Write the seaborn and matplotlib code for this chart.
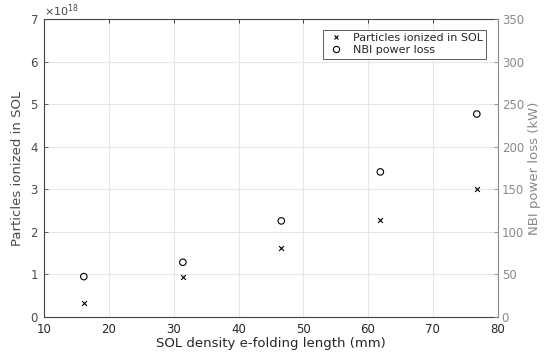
import matplotlib
matplotlib.use("Agg")
import matplotlib.pyplot as plt
import seaborn as sns
import pandas as pd
import numpy as np

efold_mm = [16.1, 31.4, 46.6, 61.9, 76.8]
particles_ionized = [0.33e18, 0.95e18, 1.63e18, 2.29e18, 3.00e18]
nbi_power_loss_kw = [47.5, 64.4, 113.0, 170.6, 238.7]

x_ticks = [10, 20, 30, 40, 50, 60, 70, 80]
left_ticks = [0, 1e18, 2e18, 3e18, 4e18, 5e18, 6e18, 7e18]
right_ticks = [0, 50, 100, 150, 200, 250, 300, 350]

sns.set_theme(style="white")
plt.rcParams['font.family'] = ['DejaVu Sans']

df = pd.DataFrame({"x": efold_mm, "p": particles_ionized, "w": nbi_power_loss_kw})

left_col = "#4a4a4a"
right_col = "#8a8a8a"

fig = plt.figure(figsize=(5.58, 3.58), dpi=100)
ax = fig.add_axes([0.0794, 0.1145, 0.8122, 0.8315])
ax2 = ax.twinx()

sns.scatterplot(data=df, x="x", y="p", ax=ax, marker="x", color="black", s=12,
                linewidth=0.8, legend=False, zorder=3)
sns.scatterplot(data=df, x="x", y="w", ax=ax2, marker="o", facecolors="none",
                edgecolor="black", s=22, linewidth=0.8, legend=False, zorder=3)

ax.set_xlim(10, 80)
ax.set_ylim(0, 7e18)
ax2.set_ylim(0, 350)
ax.set_xticks(x_ticks)
ax.set_yticks(left_ticks)
ax2.set_yticks(right_ticks)

ax.grid(True, color="#e6e6e6", linewidth=0.8)
ax.set_axisbelow(True)

ax.set_xlabel("SOL density e-folding length (mm)", fontsize=9.5, color="#262626", labelpad=1)
ax.set_ylabel("Particles ionized in SOL", fontsize=9.5, color=left_col, labelpad=4)
ax2.set_ylabel("NBI power loss (kW)", fontsize=9.5, color=right_col, labelpad=3)

ax.tick_params(axis="x", direction="in", length=3, labelsize=8.5, colors="#262626",
               top=True, pad=4, width=0.6)
ax.tick_params(axis="y", direction="in", length=3, labelsize=8.5, colors=left_col, pad=4, width=0.6)
ax2.tick_params(axis="y", direction="in", length=3, labelsize=8.5, colors=right_col, pad=3, width=0.6)

fmt = matplotlib.ticker.ScalarFormatter(useMathText=True)
fmt.set_powerlimits((0, 0))
ax.yaxis.set_major_formatter(fmt)
ax.yaxis.get_offset_text().set_fontsize(8)
ax.yaxis.get_offset_text().set_color(left_col)

for s in ["left", "bottom", "top"]:
    ax.spines[s].set_color("#444444")
    ax.spines[s].set_linewidth(0.8)
ax.spines["right"].set_visible(False)
for s in ["left", "bottom", "top"]:
    ax2.spines[s].set_visible(False)
ax2.spines["right"].set_color(right_col)
ax2.spines["right"].set_linewidth(0.8)

from matplotlib.lines import Line2D
handles = [Line2D([], [], marker="x", color="black", linestyle="none", markersize=3.5, markeredgewidth=0.8),
           Line2D([], [], marker="o", markerfacecolor="none", markeredgecolor="black",
                  linestyle="none", markersize=4.5, markeredgewidth=0.8)]
leg = ax2.legend(handles, ["Particles ionized in SOL", "NBI power loss"], loc="upper right",
                 bbox_to_anchor=(0.975, 0.965), fontsize=8, frameon=True, fancybox=False,
                 edgecolor="#333333", borderpad=0.3, handletextpad=0.6, labelspacing=0.2,
                 handlelength=1.8, borderaxespad=0)
leg.get_frame().set_linewidth(0.7)

fig.savefig("out.png", dpi=100)
